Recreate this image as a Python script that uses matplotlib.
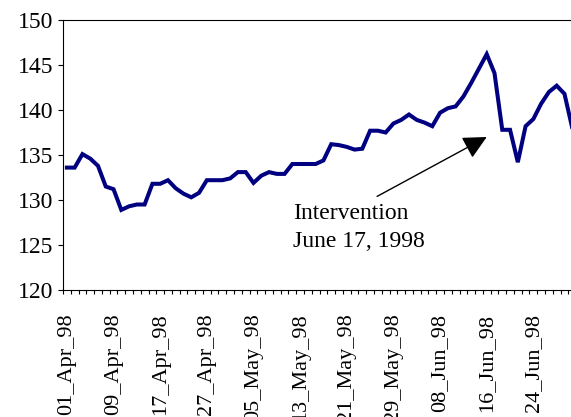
import numpy as np
import pandas as pd
import matplotlib
matplotlib.use("Agg")
import matplotlib.pyplot as plt

plt.rcParams['font.family'] = ['Liberation Serif', 'DejaVu Serif']

# taux de change quotidien (jours ouvrés à partir du 1er avril 1998)
valeurs = [133.6, 133.6, 135.1, 134.6, 133.8, 131.5, 131.2, 128.9, 129.3, 129.5,
           129.5, 131.8, 131.8, 132.2, 131.3, 130.7, 130.3, 130.8, 132.2, 132.2,
           132.2, 132.4, 133.1, 133.1, 131.9, 132.7, 133.1, 132.9, 132.9, 134.0,
           134.0, 134.0, 134.0, 134.4, 136.2, 136.1, 135.9, 135.6, 135.7, 137.7,
           137.7, 137.5, 138.5, 138.9, 139.5, 138.9, 138.6, 138.2, 139.7, 140.2,
           140.4, 141.5, 143.0, 144.6, 146.2, 144.1, 137.8, 137.8, 134.2, 138.2,
           139.0, 140.7, 142.0, 142.7, 141.8, 138.0]

dates = pd.bdate_range('1998-04-01', periods=len(valeurs))
etiquettes = [d.strftime('%d_%b_%y') for d in dates]
pas_etiquette = 6

y_ticks = [120, 125, 130, 135, 140, 145, 150]

texte_annotation = "Intervention\nJune 17, 1998"

fig = plt.figure(figsize=(5.71, 4.17), dpi=100)
ax = fig.add_axes([63 / 571, 1 - 290 / 417, 552 / 571, 270 / 417])

x = np.arange(len(valeurs))
ax.plot(x, valeurs, color='#000080', linewidth=2.9, solid_joinstyle='miter')

ax.set_xlim(-0.5, 70.5)
ax.set_ylim(120, 150)

# axe y
ax.set_yticks(y_ticks)
ax.tick_params(axis='y', direction='out', length=3.6, width=0.8, pad=3.5, labelsize=17)

# axe x : graduations entre les catégories, étiquettes toutes les 6
pos = x[::pas_etiquette]
ax.set_xticks(pos)
ax.set_xticklabels([etiquettes[i] for i in pos], rotation=90, va='top', ha='center')
ax.set_xticks(np.arange(-0.5, 71, 1), minor=True)
ax.tick_params(axis='x', which='major', length=0, pad=17, labelsize=16)
ax.tick_params(axis='x', which='minor', direction='out', length=3, width=0.8)

for s in ['left', 'bottom', 'top']:
    ax.spines[s].set_linewidth(0.8)
ax.spines['right'].set_visible(False)

ax.annotate('', xy=(54.0, 137.0), xytext=(39.9, 130.4),
            arrowprops=dict(arrowstyle='-|>,head_length=1.0,head_width=0.5',
                            mutation_scale=14.4, color='black', lw=1.0,
                            shrinkA=0, shrinkB=0))
ax.text(29.1, 129.7, texte_annotation, fontsize=17, va='top', ha='left',
        linespacing=1.45)

fig.savefig('out.png', dpi=100)
